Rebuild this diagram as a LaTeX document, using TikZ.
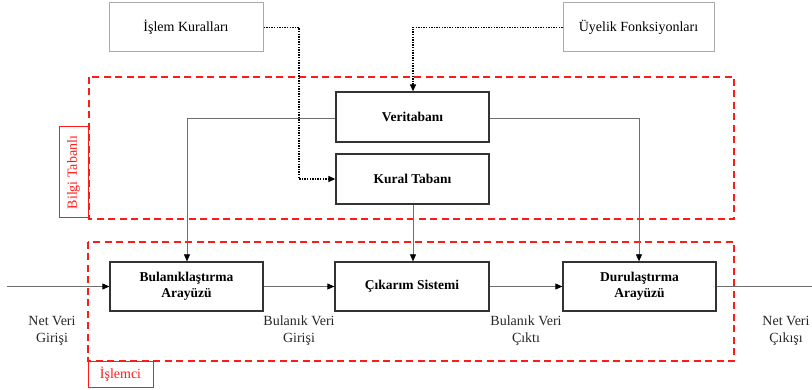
\documentclass[tikz,border=0pt]{standalone}
\usepackage{fontspec}
\setmainfont{Liberation Serif}
\usetikzlibrary{arrows.meta}
\definecolor{frame}{HTML}{333333}
\definecolor{lightframe}{HTML}{AAAAAA}
\definecolor{wire}{HTML}{6E6E6E}
\definecolor{zone}{HTML}{FF1A1A}
\tikzset{
  mainbox/.style={draw=frame, line width=1.3pt, minimum width=153pt, minimum height=49pt,
    align=center, font=\fontsize{13.5}{15.5}\selectfont\bfseries, inner sep=0pt},
  sourcebox/.style={draw=lightframe, line width=1pt, minimum width=153pt, minimum height=49pt,
    font=\fontsize{14}{16}\selectfont, inner sep=0pt},
  flow/.style={draw=wire, line width=0.8pt, -{Triangle[length=7pt,width=6pt,color=black]}},
  plain/.style={draw=wire, line width=0.8pt},
  ruleflow/.style={draw=black, line width=1.4pt, dash pattern=on 1.4pt off 1.2pt,
    -{Triangle[length=7pt,width=6pt]}},
  zonebox/.style={draw=zone, line width=1.8pt, dash pattern=on 7pt off 4.5pt},
  zonetag/.style={draw=zone, line width=1pt, text=zone, inner sep=0pt,
    font=\fontsize{14}{16}\selectfont},
  zonetext/.style={text=zone, inner sep=0pt, font=\fontsize{14}{16}\selectfont},
  caption/.style={align=center, text=black!85, font=\fontsize{14}{17}\selectfont, inner sep=0pt}
}
\begin{document}
\begin{tikzpicture}[x=1pt,y=-1pt]
\useasboundingbox (0,0) rectangle (812,390);

% dashed processing zones
\draw[zonebox] (89,77) rectangle (734,219);
\draw[zonebox] (88,242) rectangle (734,361);
\node[zonetag, minimum width=29pt, minimum height=91pt] (bilgitag) at (73.5,172.5) {};
\node[zonetext, rotate=90] (bilgitxt) at (bilgitag.center) {Bilgi Tabanlı};
\node[zonetag, minimum width=65pt, minimum height=26pt] (islemci) at (120.5,374) {İşlemci};

% external sources
\node[sourcebox, minimum width=154pt] (isl) at (186,27.5) {İşlem Kuralları};
\node[sourcebox, minimum width=151pt] (uye) at (638.5,27.5) {Üyelik Fonksiyonları};

% knowledge base
\node[mainbox, minimum height=50pt] (veri) at (412.5,117) {Veritabanı};
\node[mainbox, minimum height=50pt] (kural) at (412.5,179) {Kural Tabanı};

% processing chain
\node[mainbox] (bul) at (186.5,286.5) {Bulanıklaştırma\\Arayüzü};
\node[mainbox, minimum width=154pt] (cik) at (412,286.5) {Çıkarım Sistemi};
\node[mainbox] (dur) at (639.5,286.5) {Durulaştırma\\Arayüzü};

\coordinate (in) at (7,286.5);
\coordinate (out) at (812,286.5);

% rule and membership inputs
\draw[ruleflow] (isl.east) -- (299,27.5) -- (299,179) -- (kural.west);
\draw[ruleflow] (uye.west) -- (413,27.5) -- (veri.north -| 413,0);

% data flow
\draw[flow] (veri.west |- 0,118) -- (187,118) -- (bul.north -| 187,0);
\draw[flow] (veri.east |- 0,118) -- (639,118) -- (dur.north -| 639,0);
\draw[flow] (kural.south -| 413,0) -- (cik.north -| 413,0);
\draw[flow] (in) -- (bul.west);
\draw[flow] (bul.east) -- (cik.west);
\draw[flow] (cik.east) -- (dur.west);
\draw[plain] (dur.east) -- (out);

% signal labels
\node[caption] (netin) at (52,331) {Net Veri\\Girişi};
\node[caption] (fuzin) at (299,331) {Bulanık Veri\\Girişi};
\node[caption] (fuzout) at (526,331) {Bulanık Veri\\Çıktı};
\node[caption] (netout) at (786,331) {Net Veri\\Çıkışı};
\end{tikzpicture}
\end{document}
